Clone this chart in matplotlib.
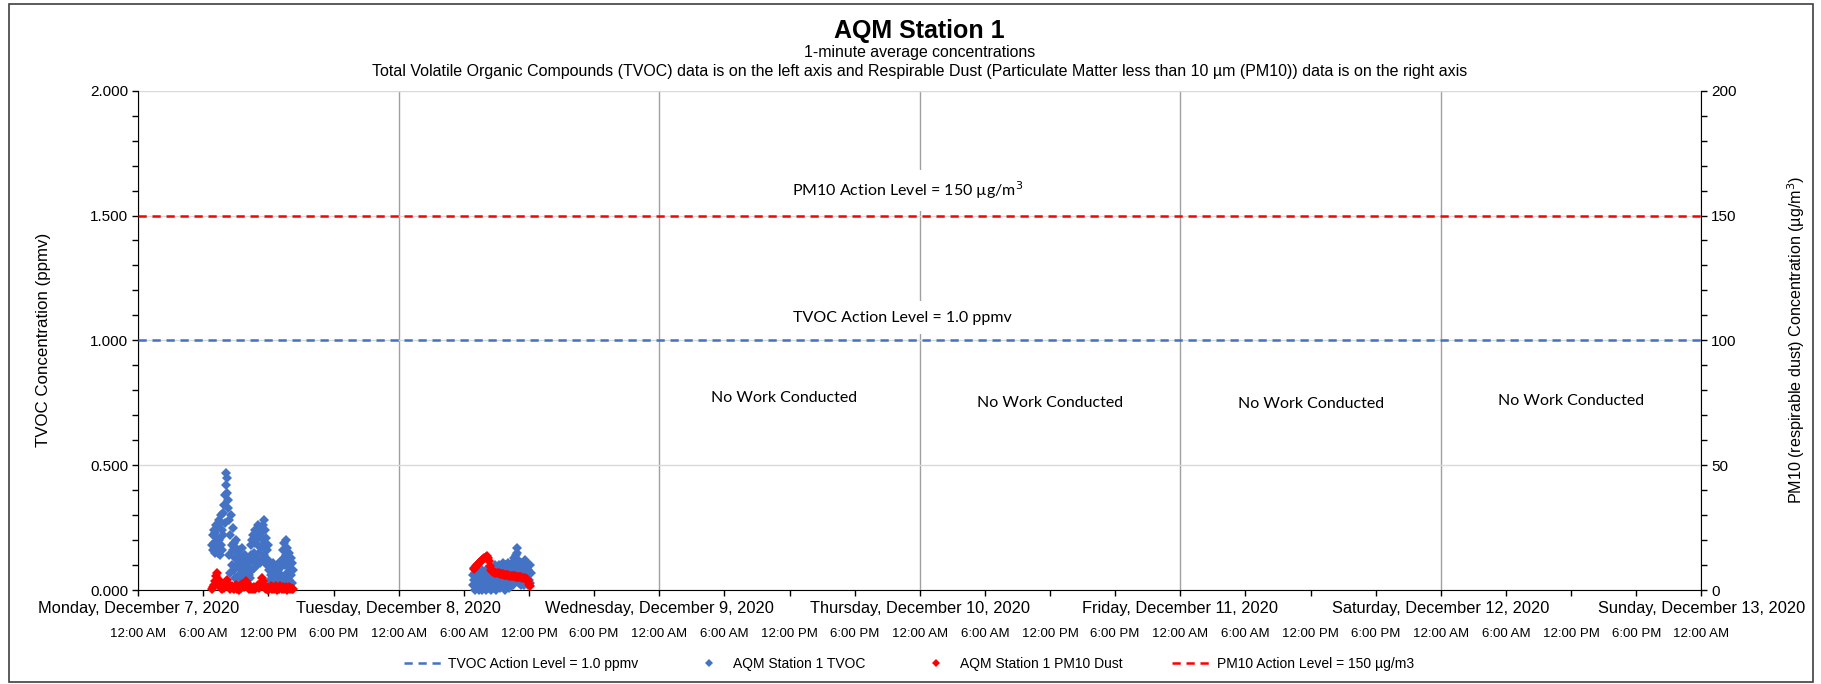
# -*- coding: utf-8 -*-
"""
AQM Station 1 - TVOC and PM10 1-minute averages, week of Dec 7 2020
"""
import numpy as np
import pandas as pd
import matplotlib
matplotlib.use('Agg')
import matplotlib.pyplot as plt
import matplotlib.dates as mdates
from matplotlib.patches import Rectangle

plt.rcParams['font.family'] = ['Liberation Sans', 'DejaVu Sans']

# %% Data
week_start = pd.Timestamp('2020-12-07 00:00')
week_end = pd.Timestamp('2020-12-13 00:00')

tvoc_action = 1.0      # ppmv
pm10_action = 150      # ug/m3

# Monday TVOC (ppmv), readings every 3 min from 06:48
tvoc_mon_start = '2020-12-07 06:48'
tvoc_mon = [0.18, 0.22, 0.16, 0.24, 0.19, 0.15, 0.23, 0.26, 0.17, 0.21,
            0.25, 0.15, 0.28, 0.20, 0.14, 0.27, 0.30, 0.18, 0.24, 0.16,
            0.31, 0.22, 0.34, 0.27, 0.38, 0.42, 0.47, 0.45, 0.39, 0.33,
            0.36, 0.28, 0.14, 0.07, 0.22, 0.30, 0.18, 0.10, 0.25, 0.16,
            0.08, 0.19, 0.13, 0.05, 0.20, 0.17, 0.10, 0.04, 0.15, 0.12,
            0.06, 0.16, 0.09, 0.13, 0.04, 0.11, 0.17, 0.07, 0.12, 0.03,
            0.10, 0.14, 0.05, 0.08, 0.13, 0.03, 0.09, 0.12, 0.06, 0.11,
            0.05, 0.14, 0.18, 0.08, 0.20, 0.12, 0.22, 0.15, 0.09, 0.19,
            0.24, 0.13, 0.21, 0.10, 0.18, 0.26, 0.15, 0.22, 0.11, 0.25,
            0.17, 0.23, 0.12, 0.20, 0.26, 0.14, 0.28, 0.24, 0.19, 0.11,
            0.21, 0.16, 0.10, 0.18, 0.12, 0.08, 0.11, 0.04, 0.09, 0.06,
            0.10, 0.03, 0.07, 0.11, 0.02, 0.05, 0.09, 0.01, 0.06, 0.10,
            0.04, 0.08, 0.02, 0.11, 0.05, 0.03, 0.09, 0.06, 0.02, 0.12,
            0.16, 0.05, 0.13, 0.19, 0.03, 0.10, 0.20, 0.14, 0.07, 0.17,
            0.12, 0.04, 0.15, 0.09, 0.02, 0.13, 0.06, 0.11, 0.03, 0.08]

# Tuesday TVOC (ppmv), readings every 3 min from 06:48
tvoc_tue_start = '2020-12-08 06:48'
tvoc_tue = [0.06, 0.02, 0.09, 0.04, 0.00, 0.07, 0.03, 0.08, 0.01, 0.05,
            0.03, 0.08, 0.00, 0.06, 0.02, 0.07, 0.04, 0.00, 0.08, 0.03,
            0.05, 0.01, 0.07, 0.03, 0.08, 0.00, 0.04, 0.06, 0.02, 0.08,
            0.01, 0.05, 0.03, 0.08, 0.00, 0.06, 0.02, 0.09, 0.04, 0.01,
            0.07, 0.03, 0.10, 0.05, 0.00, 0.08, 0.02, 0.06, 0.10, 0.03,
            0.05, 0.01, 0.08, 0.04, 0.09, 0.02, 0.06, 0.11, 0.03, 0.07,
            0.00, 0.05, 0.10, 0.02, 0.08, 0.04, 0.11, 0.01, 0.06, 0.09,
            0.03, 0.08, 0.05, 0.11, 0.02, 0.09, 0.13, 0.06, 0.10, 0.04,
            0.14, 0.17, 0.15, 0.08, 0.12, 0.03, 0.10, 0.06, 0.09, 0.02,
            0.07, 0.11, 0.04, 0.09, 0.02, 0.08, 0.12, 0.05, 0.10, 0.03,
            0.06, 0.11, 0.02, 0.08, 0.04, 0.10, 0.03, 0.07]

# Monday PM10 (ug/m3), readings every 6 min from 06:48
pm10_mon_start = '2020-12-07 06:48'
pm10_mon = [0.5, 1.2, 2.0, 3.5, 5.5, 6.8, 4.0, 2.2, 1.0, 0.6,
            1.5, 0.8, 2.4, 3.2, 3.9, 2.6, 1.2, 0.4, 1.8, 0.9,
            0.3, 1.4, 2.1, 0.6, 1.0, 0.2, 1.6, 0.8, 2.3, 1.1,
            2.8, 3.6, 2.5, 1.2, 0.5, 1.7, 0.3, 1.0, 0.6, 1.4,
            0.4, 1.2, 2.0, 0.7, 1.5, 3.0, 4.9, 3.8, 2.1, 1.0,
            0.5, 1.3, 0.2, 0.9, 1.6, 0.4, 1.1, 0.3, 0.8, 1.5,
            0.2, 1.0, 0.6, 1.7, 0.3, 1.2, 0.5, 0.9, 1.4, 0.2,
            0.8, 1.3, 0.4, 1.0, 0.6, 0.3]

# Tuesday PM10 (ug/m3), readings every 6 min from 06:54
pm10_tue_start = '2020-12-08 06:54'
pm10_tue = [8.5, 9.0, 9.6, 10.0, 10.5, 11.0, 11.3, 11.8, 12.2, 12.6,
            13.0, 13.4, 13.6, 13.0, 11.5, 9.8, 8.2, 7.6, 7.3, 7.1,
            7.0, 6.9, 6.8, 6.8, 6.6, 6.5, 6.5, 6.3, 6.2, 6.1,
            6.0, 6.0, 5.9, 5.8, 5.8, 5.7, 5.6, 5.6, 5.5, 5.4,
            5.4, 5.3, 5.2, 5.2, 5.1, 5.0, 4.9, 4.8, 4.6, 4.3,
            3.5, 2.6, 1.8]

# build the time stamps of each run of readings
t_tvoc = np.concatenate([pd.date_range(tvoc_mon_start, periods=len(tvoc_mon), freq='3min'),
                         pd.date_range(tvoc_tue_start, periods=len(tvoc_tue), freq='3min')])
y_tvoc = np.array(tvoc_mon + tvoc_tue)
t_pm10 = np.concatenate([pd.date_range(pm10_mon_start, periods=len(pm10_mon), freq='6min'),
                         pd.date_range(pm10_tue_start, periods=len(pm10_tue), freq='6min')])
y_pm10 = np.array(pm10_mon + pm10_tue)

blue = '#4472C4'
red = '#FF0000'

# %% Plotting
fig = plt.figure(figsize=(18.21, 6.84), dpi=100)
ax = fig.add_axes([0.0759, 0.1374, 0.8584, 0.7300])
ax2 = ax.twinx()

l1 = ax.axhline(tvoc_action, color=blue, lw=1.8, ls=(0, (3.3, 2.3)),
                label='TVOC Action Level = 1.0 ppmv', zorder=3)
s1, = ax.plot(t_tvoc, y_tvoc, ls='none', marker='D', ms=5, mew=0,
              color=blue, label='AQM Station 1 TVOC', clip_on=False, zorder=4)
s2, = ax2.plot(t_pm10, y_pm10, ls='none', marker='D', ms=5, mew=0,
               color=red, label='AQM Station 1 PM10 Dust', clip_on=False, zorder=4)
l2 = ax2.axhline(pm10_action, color=red, lw=1.8, ls=(0, (3.3, 2.3)),
                 label='PM10 Action Level = 150 µg/m3', zorder=3)

ax.set_xlim(week_start, week_end)
ax.set_ylim(0, 2.0)
ax2.set_ylim(0, 200)

# x axis: times every 6 hours, day names underneath each midnight
ax.xaxis.set_major_locator(mdates.HourLocator(byhour=[0, 6, 12, 18]))
ax.xaxis.set_major_formatter(mdates.DateFormatter('%-I:%M %p'))
ax.xaxis.set_minor_locator(mdates.DayLocator())
ax.xaxis.remove_overlapping_locs = False
ax.tick_params(axis='x', which='major', direction='out', length=4, width=1,
               labelsize=9.5, pad=23)
ax.tick_params(axis='x', which='minor', length=0)
ax.grid(axis='x', which='minor', color='#A0A0A0', lw=1)

for day in pd.date_range(week_start, week_end, freq='D'):
    ax.annotate(day.strftime('%A, %B %-d, %Y'),
                xy=(mdates.date2num(day.to_pydatetime()), 0),
                xycoords=('data', 'axes fraction'), xytext=(0, -13),
                textcoords='offset points', ha='center', va='center',
                fontsize=11.8, annotation_clip=False)

# y axes
ax.set_yticks(np.arange(0, 2.01, 0.5))
ax.set_yticks(np.arange(0, 2.01, 0.1), minor=True)
ax.yaxis.set_major_formatter(plt.FormatStrFormatter('%.3f'))
ax.tick_params(axis='y', which='both', direction='out', length=4, width=1,
               labelsize=11, pad=3)
ax.grid(axis='y', which='major', color='#D9D9D9', lw=1)
ax.set_axisbelow(True)

ax2.set_yticks(np.arange(0, 201, 50))
ax2.set_yticks(np.arange(0, 201, 10), minor=True)
ax2.tick_params(axis='y', which='both', direction='out', length=4, width=1,
                labelsize=11, pad=3)

for sp in ['top', 'right']:
    ax.spines[sp].set_visible(False)
for sp in ['top', 'left', 'bottom']:
    ax2.spines[sp].set_visible(False)
ax.spines['left'].set_color('black')
ax.spines['bottom'].set_color('black')
ax2.spines['right'].set_color('black')

ax.set_ylabel('TVOC Concentration (ppmv)', fontsize=12.2, labelpad=28)
ax2.set_ylabel('PM10 (respirable dust) Concentration (µg/m$^3$)',
               fontsize=11.6, labelpad=35)

# labels on the chart
lab_font = ['Lato', 'DejaVu Sans']
box = dict(boxstyle='square,pad=0.6', fc='white', ec='none')
ax.text(pd.Timestamp('2020-12-09 22:55'), 1.60, 'PM10 Action Level = 150 µg/m$^3$',
        family=lab_font, fontsize=11.5, ha='center', va='center', bbox=box, zorder=2)
ax.text(pd.Timestamp('2020-12-09 22:25'), 1.09, 'TVOC Action Level = 1.0 ppmv',
        family=lab_font, fontsize=11.5, ha='center', va='center', bbox=box, zorder=2)
for when, yv in [('2020-12-09 11:30', 0.77), ('2020-12-10 12:00', 0.75),
                 ('2020-12-11 12:05', 0.745), ('2020-12-12 12:00', 0.757)]:
    ax.text(pd.Timestamp(when), yv, 'No Work Conducted', family=lab_font,
            fontsize=11.5, ha='center', va='center')

# titles
fig.text(0.505, 1 - 31 / 684, 'AQM Station 1', fontsize=18, fontweight='bold',
         ha='center', va='center')
fig.text(0.505, 1 - 52 / 684, '1-minute average concentrations', fontsize=11.4,
         ha='center', va='center')
fig.text(0.505, 1 - 71.5 / 684,
         'Total Volatile Organic Compounds (TVOC) data is on the left axis and '
         'Respirable Dust (Particulate Matter less than 10 µm (PM10)) data is on the right axis',
         fontsize=11.5, ha='center', va='center')

fig.legend(handles=[l1, s1, s2, l2], loc='center', bbox_to_anchor=(0.499, 1 - 664 / 684),
           ncol=4, frameon=False, fontsize=10, handlelength=3.0, columnspacing=3.6,
           handletextpad=0.2, markerscale=0.9)

# chart frame
fig.patches.append(Rectangle((9 / 1821, 2 / 684), 1804 / 1821, 678 / 684,
                             transform=fig.transFigure, fill=False,
                             ec='#404040', lw=1.2))

fig.savefig('out.png', dpi=100)
plt.close(fig)
